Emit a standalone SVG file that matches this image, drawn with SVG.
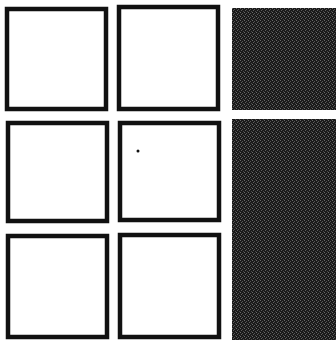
<svg xmlns="http://www.w3.org/2000/svg" width="336" height="340" viewBox="0 0 336 340">
  <defs>
    <pattern id="grain" width="4" height="4" patternUnits="userSpaceOnUse">
      <rect width="4" height="4" fill="#1a1a1a"/>
      <rect x="0" y="0" width="1" height="1" fill="#6a6a6a"/>
      <rect x="2" y="1" width="1" height="1" fill="#555"/>
      <rect x="1" y="2" width="1" height="1" fill="#5e5e5e"/>
      <rect x="3" y="3" width="1" height="1" fill="#4a4a4a"/>
    </pattern>
  </defs>
  <style>
    .frame { fill: #fff; stroke: #111; stroke-width: 4.5; }
    .dark { fill: url(#grain); }
  </style>
  <rect width="336" height="340" fill="#fff"/>
  <g id="box-r1c1"><rect class="frame" x="7" y="9" width="99" height="100"/></g>
  <g id="box-r1c2"><rect class="frame" x="119" y="7" width="99" height="102"/></g>
  <g id="box-r1c3"><rect class="dark" x="232" y="8" width="104" height="102"/></g>
  <g id="box-r2c1"><rect class="frame" x="8" y="123" width="99" height="98"/></g>
  <g id="box-r2c2"><rect class="frame" x="120" y="123" width="99" height="97"/>
    <circle cx="138" cy="151" r="1.5" fill="#111"/></g>
  <g id="box-r2c3"><rect class="dark" x="232" y="119" width="104" height="221"/></g>
  <g id="box-r3c1"><rect class="frame" x="8" y="236" width="99" height="101"/></g>
  <g id="box-r3c2"><rect class="frame" x="120" y="235" width="99" height="102"/></g>
  <g id="connectors"></g>
</svg>
